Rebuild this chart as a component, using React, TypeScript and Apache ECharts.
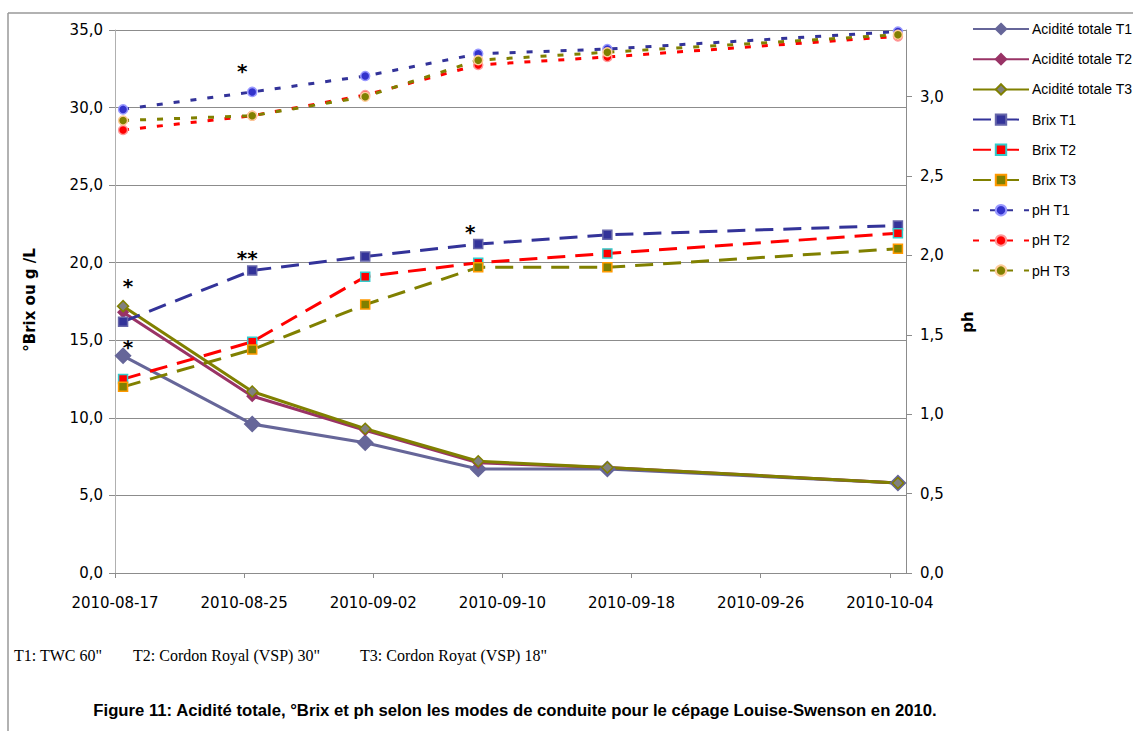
import React, { useEffect, useRef } from 'react';
import * as echarts from 'echarts';

// Sampling dates and the date axis range (one day per bin, points sit mid-bin)
const sampleDates = ['2010-08-17', '2010-08-25', '2010-09-01', '2010-09-08', '2010-09-16', '2010-10-04'];
const axisStart = '2010-08-17';
const axisEnd = '2010-10-05';
const xTickDates = ['2010-08-17', '2010-08-25', '2010-09-02', '2010-09-10', '2010-09-18', '2010-09-26', '2010-10-04'];

// Acidité totale (g/L) — left axis
const aciditeT1 = [14.0, 9.6, 8.4, 6.7, 6.7, 5.8];
const aciditeT2 = [16.8, 11.4, 9.2, 7.1, 6.8, 5.8];
const aciditeT3 = [17.2, 11.7, 9.3, 7.2, 6.8, 5.8];

// °Brix — left axis
const brixT1 = [16.2, 19.5, 20.4, 21.2, 21.8, 22.4];
const brixT2 = [12.5, 14.9, 19.1, 20.0, 20.6, 21.9];
const brixT3 = [12.0, 14.4, 17.3, 19.7, 19.7, 20.9];

// pH — right axis
const phT1 = [2.92, 3.03, 3.13, 3.27, 3.30, 3.41];
const phT2 = [2.79, 2.88, 3.01, 3.20, 3.25, 3.38];
const phT3 = [2.85, 2.88, 3.00, 3.23, 3.28, 3.39];

const leftAxisMin = 0;
const leftAxisMax = 35;
const leftAxisStep = 5;
const rightAxisMax = 3.42;
const rightTickValues = [0, 0.5, 1.0, 1.5, 2.0, 2.5, 3.0];

// Significance marks placed over sample points
const significance = [
  { series: 'pH T1', index: 1, mark: '*' },
  { series: 'Brix T1', index: 1, mark: '**' },
  { series: 'Acidité totale T3', index: 0, mark: '*' },
  { series: 'Acidité totale T1', index: 0, mark: '*' },
  { series: 'Brix T1', index: 3, mark: '*' },
];

const treatmentNotes = ['T1: TWC 60"', 'T2: Cordon Royal (VSP) 30"', 'T3: Cordon Royat (VSP) 18"'];
const figureCaption =
  'Figure 11: Acidité totale, °Brix et ph selon les modes de conduite pour le cépage Louise-Swenson en 2010.';

const DAY = 86400000;
const startMs = Date.parse(axisStart);
const dayOf = (d: string) => (Date.parse(d) - startMs) / DAY;
const dayLabel = (v: number) => new Date(startMs + Math.round(v) * DAY).toISOString().slice(0, 10);
const comma1 = (v: number) => v.toFixed(1).replace('.', ',');

// label offsets for the significance marks, keyed by "series|index"
const markOffsets: Record<string, [number, number]> = {
  'pH T1|1': [-10, -21],
  'Brix T1|1': [-5, -12],
  'Acidité totale T3|0': [5, -20],
  'Acidité totale T1|0': [5, -9],
  'Brix T1|3': [-8, -12],
};

const AXIS_FONT = 'DejaVu Sans';
const GRID_COLOR = '#8c8c8c';

type SeriesDef = {
  name: string;
  values: number[];
  axis: number;
  color: string;
  dash: number[] | 'solid';
  width: number;
  symbol: string;
  symbolSize: number;
  fill: string;
  border: string;
};

const seriesDefs: SeriesDef[] = [
  { name: 'Acidité totale T1', values: aciditeT1, axis: 0, color: '#666699', dash: 'solid', width: 3, symbol: 'diamond', symbolSize: 15, fill: '#666699', border: '#666699' },
  { name: 'Acidité totale T2', values: aciditeT2, axis: 0, color: '#993366', dash: 'solid', width: 3, symbol: 'diamond', symbolSize: 10, fill: '#993366', border: '#993366' },
  { name: 'Acidité totale T3', values: aciditeT3, axis: 0, color: '#808000', dash: 'solid', width: 3, symbol: 'diamond', symbolSize: 11, fill: '#808080', border: '#808000' },
  { name: 'Brix T1', values: brixT1, axis: 0, color: '#333399', dash: [18, 10], width: 3, symbol: 'rect', symbolSize: 9, fill: '#333399', border: '#6666aa' },
  { name: 'Brix T2', values: brixT2, axis: 0, color: '#ff0000', dash: [18, 10], width: 3, symbol: 'rect', symbolSize: 9, fill: '#ff0000', border: '#33cccc' },
  { name: 'Brix T3', values: brixT3, axis: 0, color: '#808000', dash: [18, 10], width: 3, symbol: 'rect', symbolSize: 9, fill: '#808000', border: '#ff9900' },
  { name: 'pH T1', values: phT1, axis: 1, color: '#333399', dash: [6, 11], width: 3, symbol: 'circle', symbolSize: 9, fill: '#3333cc', border: '#9999ff' },
  { name: 'pH T2', values: phT2, axis: 1, color: '#ff0000', dash: [6, 11], width: 3, symbol: 'circle', symbolSize: 9, fill: '#ff0000', border: '#ff9999' },
  { name: 'pH T3', values: phT3, axis: 1, color: '#808000', dash: [6, 11], width: 3, symbol: 'circle', symbolSize: 9, fill: '#808000', border: '#ffcc99' },
];

function buildOption() {
  const series = seriesDefs.map((s) => {
    const data = s.values.map((v, i) => [dayOf(sampleDates[i]) + 0.5, v]);
    const marks = significance
      .filter((m) => m.series === s.name)
      .map((m) => ({
        coord: data[m.index],
        label: {
          show: true,
          formatter: m.mark,
          offset: markOffsets[`${m.series}|${m.index}`] || [0, -12],
        },
      }));
    return {
      name: s.name,
      type: 'line',
      yAxisIndex: s.axis,
      data,
      symbol: s.symbol,
      symbolSize: s.symbolSize,
      showAllSymbol: true,
      lineStyle: { color: s.color, width: s.width, type: s.dash },
      itemStyle: { color: s.fill, borderColor: s.border, borderWidth: 1.5 },
      emphasis: { disabled: true },
      markPoint: marks.length
        ? {
            symbol: 'circle',
            symbolSize: 1,
            itemStyle: { color: 'rgba(0,0,0,0)' },
            label: {
              position: 'inside',
              color: '#000',
              fontFamily: 'DejaVu Sans',
              fontWeight: 'bold',
              fontSize: 20,
            },
            data: marks,
          }
        : undefined,
    };
  });

  const noteX = [14, 133, 360];

  return {
    animation: false,
    backgroundColor: '#ffffff',
    grid: { left: 115, right: 227, top: 30, bottom: 158 },
    legend: {
      orient: 'vertical',
      left: 972,
      top: 22,
      padding: 0,
      itemWidth: 56,
      itemHeight: 13,
      itemGap: 16.2,
      textStyle: { color: '#000', fontFamily: 'Liberation Sans', fontSize: 14, padding: [0, 0, 0, -2] },
      data: seriesDefs.map((s) => s.name),
    },
    xAxis: {
      type: 'value',
      min: 0,
      max: dayOf(axisEnd),
      interval: 8,
      axisLine: { show: true, lineStyle: { color: GRID_COLOR, width: 1 } },
      axisTick: {
        show: true,
        length: 5,
        lineStyle: { color: GRID_COLOR },
        customValues: xTickDates.map(dayOf),
      },
      axisLabel: {
        margin: 22,
        color: '#000',
        fontFamily: AXIS_FONT,
        fontSize: 15,
        customValues: xTickDates.map(dayOf),
        formatter: (v: number) => dayLabel(v),
      },
      splitLine: { show: false },
    },
    yAxis: [
      {
        type: 'value',
        min: leftAxisMin,
        max: leftAxisMax,
        interval: leftAxisStep,
        axisLine: { show: true, lineStyle: { color: '#b0b0b0', width: 1 } },
        axisTick: { show: true, length: 6, lineStyle: { color: GRID_COLOR } },
        axisLabel: {
          margin: 12,
          color: '#000',
          fontFamily: AXIS_FONT,
          fontSize: 15,
          formatter: (v: number) => comma1(v),
        },
        splitLine: { show: true, lineStyle: { color: GRID_COLOR, width: 1 } },
      },
      {
        type: 'value',
        position: 'right',
        min: 0,
        max: rightAxisMax,
        interval: 0.5,
        axisLine: { show: true, lineStyle: { color: GRID_COLOR, width: 1 } },
        axisTick: { show: true, length: 6, lineStyle: { color: GRID_COLOR }, customValues: rightTickValues },
        axisLabel: {
          margin: 14,
          color: '#000',
          fontFamily: AXIS_FONT,
          fontSize: 15,
          customValues: rightTickValues,
          formatter: (v: number) => comma1(v),
        },
        splitLine: { show: false },
      },
    ],
    graphic: [
      // outer frame
      { type: 'line', shape: { x1: 8, y1: 13, x2: 1133, y2: 13 }, style: { stroke: '#999', lineWidth: 1.5 }, silent: true },
      { type: 'line', shape: { x1: 8, y1: 13, x2: 8, y2: 731 }, style: { stroke: '#999', lineWidth: 1.5 }, silent: true },
      // axis titles
      {
        type: 'text',
        x: 30,
        y: 300,
        rotation: Math.PI / 2,
        style: {
          text: '°Brix ou g /L',
          fill: '#000',
          font: 'bold 15px "DejaVu Sans"',
          align: 'center',
          verticalAlign: 'middle',
        },
      },
      {
        type: 'text',
        x: 968,
        y: 322,
        rotation: Math.PI / 2,
        style: {
          text: 'ph',
          fill: '#000',
          font: 'bold 15px "DejaVu Sans"',
          align: 'center',
          verticalAlign: 'middle',
        },
      },
      // treatment notes
      ...treatmentNotes.map((t, i) => ({
        type: 'text',
        x: noteX[i],
        y: 655,
        style: {
          text: t,
          fill: '#000',
          font: '16px "Liberation Serif"',
          align: 'left',
          verticalAlign: 'middle',
        },
      })),
      // caption
      {
        type: 'text',
        x: 515,
        y: 710,
        style: {
          text: figureCaption,
          fill: '#000',
          font: 'bold 16.7px "Liberation Sans"',
          align: 'center',
          verticalAlign: 'middle',
        },
      },
    ],
    series,
  };
}

export default function App() {
  const ref = useRef<HTMLDivElement>(null);
  useEffect(() => {
    if (!ref.current) return;
    const chart = echarts.init(ref.current, undefined, { renderer: 'svg' });
    chart.setOption(buildOption() as any);
    return () => chart.dispose();
  }, []);
  return (
    <div
      ref={ref}
      style={{ position: 'fixed', left: 0, top: 0, width: 1133, height: 731, background: '#fff' }}
    />
  );
}
